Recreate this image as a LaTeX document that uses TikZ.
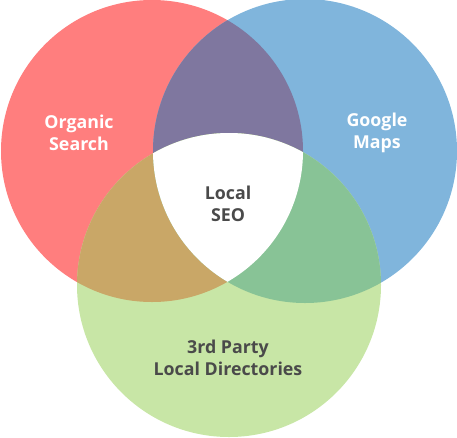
\documentclass[tikz,border=0pt]{standalone}
\usepackage{fontspec}
\setmainfont{Open Sans}
\usepackage{tikz}

\definecolor{organic}{HTML}{FF7E7E}
\definecolor{maps}{HTML}{80B5DC}
\definecolor{directories}{HTML}{C8E6A6}
\definecolor{organicmaps}{HTML}{7F779F}
\definecolor{organicdirs}{HTML}{C9A767}
\definecolor{mapsdirs}{HTML}{88C396}
\definecolor{darktext}{HTML}{4A4A4A}

\tikzset{
	label text/.style={align=center, font=\bfseries\fontsize{17.8}{21.5}\selectfont},
	light text/.style={label text, text=white},
	dark text/.style={label text, text=darktext}
}

\begin{document}
\begin{tikzpicture}[x=1pt,y=-1pt]
		\useasboundingbox (0,0) rectangle (457,437);
		\coordinate (organic) at (152,151);
		\coordinate (maps) at (305,151);
		\coordinate (dirs) at (229,285);
		
		% the three circles
		\fill [organic] (organic) circle [radius=151pt];
		\fill [maps] (maps) circle [radius=152pt];
		\fill [directories] (dirs) circle [radius=152pt];
		
		% overlaps
		\begin{scope}
			\clip (organic) circle [radius=151pt];
			\fill [organicmaps] (maps) circle [radius=152pt];
			\fill [organicdirs] (dirs) circle [radius=152pt];
		\end{scope}
		\begin{scope}
			\clip (maps) circle [radius=152pt];
			\fill [mapsdirs] (dirs) circle [radius=152pt];
			\clip (organic) circle [radius=151pt];
			\fill [white] (dirs) circle [radius=152pt];
		\end{scope}
		
		\node [light text] (organictxt) at (79,133) {Organic\\Search};
		\node [light text] (mapstxt) at (377,133) {Google\\Maps};
		\node [dark text] (seotxt) at (228,204) {Local\\SEO};
		\node [dark text] (dirstxt) at (228,358) {3rd Party\\Local Directories};
\end{tikzpicture}
\end{document}
